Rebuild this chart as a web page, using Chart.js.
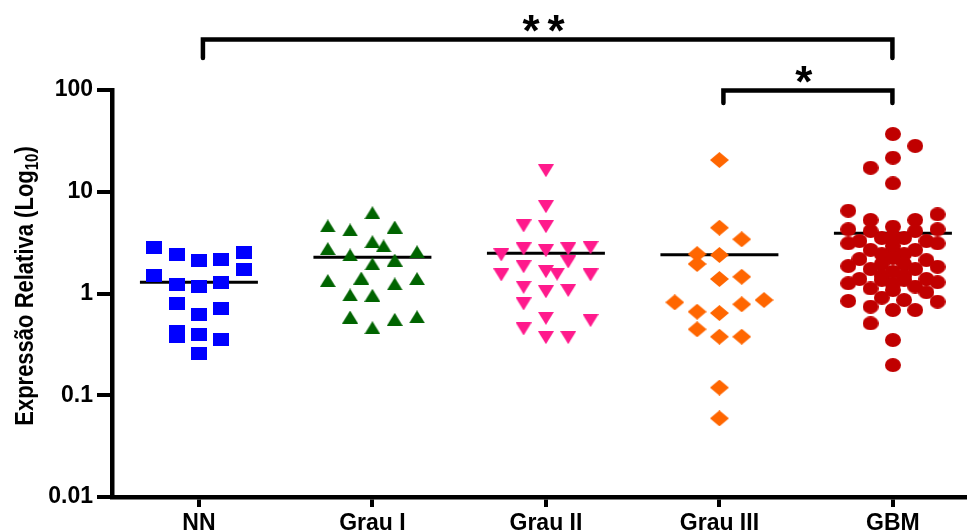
<!DOCTYPE html>
<html>
<head>
<meta charset="utf-8">
<script src="https://cdn.jsdelivr.net/npm/chart.js@4/dist/chart.umd.min.js"></script>
<style>
  html, body { margin: 0; padding: 0; background: #ffffff; }
  #chart { display: block; }
</style>
</head>
<body>
<canvas id="chart" width="967" height="532"></canvas>
<script>
// Groups along the x axis
const categories = ['NN', 'Grau I', 'Grau II', 'Grau III', 'GBM'];

// Log axis ticks
const yTickValues = [0.01, 0.1, 1, 10, 100];
const yTickLabels = ['0.01', '0.1', '1', '10', '100'];

// Axis title (main text + subscript)
const yTitleMain = 'Expressão Relativa (Log';
const yTitleSub = '10';
const yTitleEnd = ')';

// Relative expression of each sample, per group
const nnValues = [2.84, 1.49, 2.43, 1.22, 0.80, 0.42, 0.38, 2.13, 1.16, 0.615, 0.397, 0.256, 2.17, 1.27, 0.71, 0.355, 2.52, 1.73];
const grau1Values = [6.22, 4.61, 4.21, 4.50, 3.23, 2.93, 2.76, 2.39, 2.57, 1.95, 2.13, 1.42, 1.34, 1.24, 1.40, 0.967, 0.96, 0.587, 0.59, 0.557, 0.461];
const grau2Values = [16.1, 7.13, 4.61, 4.53, 2.74, 2.63, 2.74, 2.82, 2.39, 2.04, 1.83, 1.64, 1.55, 1.52, 1.52, 1.15, 1.04, 1.07, 0.789, 0.570, 0.541, 0.448, 0.368, 0.368];
const grau3Values = [20.5, 4.43, 3.41, 2.44, 2.39, 1.95, 1.39, 1.46, 0.819, 0.863, 0.783, 0.662, 0.643, 0.445, 0.376, 0.376, 0.119, 0.0593];
const gbmValues = [36.9, 28.2, 21.6, 17.2, 12.1, 6.51, 6.00, 5.28, 5.28, 4.54, 4.28, 4.28, 4.11, 4.11, 3.67, 3.51, 3.51, 3.28, 3.28, 3.11, 3.11, 2.93, 2.68, 2.68, 2.56, 2.44, 2.44, 2.23, 2.18, 2.13, 1.95, 1.95, 1.86, 1.83, 1.74, 1.74, 1.63, 1.49, 1.49, 1.39, 1.39, 1.36, 1.36, 1.26, 1.29, 1.24, 1.17, 1.12, 1.08, 1.03, 0.909, 0.863, 0.844, 0.831, 0.742, 0.688, 0.688, 0.509, 0.349, 0.198];

// Column slot of each sample inside its group's scatter (0 = centre column)
const nnSlots = [-2, -2, -1, -1, -1, -1, -1, 0, 0, 0, 0, 0, 1, 1, 1, 1, 2, 2];
const grau1Slots = [0, -2, -1, 1, 0, 0.5, -2, -1, 2, 0, 1, -0.5, -2, 1, 2, -1, 0, -1, 2, 1, 0];
const grau2Slots = [0, 0, -1, 0, -1, 0, 1, 2, -2, 1, -1, 0, 0.5, -2, 2, -1, 0, 1, -1, 0, 2, -1, 0, 1];
const grau3Slots = [0, 0, 1, -1, 0, -1, 0, 1, -2, 2, 1, -1, 0, -1, 0, 1, 0, 0];
const gbmSlots = [0, 1, 0, -1, 0, -2, 2, -1, 1, 0, -2, 2, -1, 1, 0, -0.5, 0.5, -1.5, 1.5, -2, 2, 0, -1, 1, 0, -0.5, 0.5, 0, -1.5, 1.5, -0.5, 0.5, -2, 2, -1, 1, 0, -0.5, 0.5, -1.5, 1.5, -0.5, 0.5, -2, 2, 0, 1, -1, 0, 1.5, -0.5, 0.5, -2, 2, -1, 0, 1, -1, 0, 0];

// Group means (horizontal bars)
const groupMeans = [1.29, 2.27, 2.48, 2.41, 3.91];

// Significance brackets between groups
const comparisons = [
  { from: 0, to: 4, label: '**', level: 1 },
  { from: 3, to: 4, label: '*', level: 0 }
];

// ---- drawing ----
const SLOT_STEP = 0.1286;   // horizontal spacing of scatter columns, in category units
const MEAN_HALF = 0.34;     // half length of mean bars, in category units
const FONT = '"Liberation Sans", Arial, Helvetica, sans-serif';

function makeMarker(shape, color, w, h) {
  const c = document.createElement('canvas');
  c.width = w; c.height = h;
  const g = c.getContext('2d');
  g.fillStyle = color;
  g.beginPath();
  if (shape === 'square') {
    g.rect(0, 0, w, h);
  } else if (shape === 'up') {
    g.moveTo(w / 2, 0); g.lineTo(w, h); g.lineTo(0, h); g.closePath();
  } else if (shape === 'down') {
    g.moveTo(0, 0); g.lineTo(w, 0); g.lineTo(w / 2, h); g.closePath();
  } else if (shape === 'diamond') {
    g.moveTo(w / 2, 0); g.lineTo(w, h / 2); g.lineTo(w / 2, h); g.lineTo(0, h / 2); g.closePath();
  } else {
    g.ellipse(w / 2, h / 2, w / 2, h / 2, 0, 0, Math.PI * 2);
  }
  g.fill();
  return c;
}

const groups = [
  { values: nnValues,    slots: nnSlots,    marker: makeMarker('square',  '#0000ff', 16, 13) },
  { values: grau1Values, slots: grau1Slots, marker: makeMarker('up',      '#006400', 16, 13) },
  { values: grau2Values, slots: grau2Slots, marker: makeMarker('down',    '#ff1a8c', 16, 13) },
  { values: grau3Values, slots: grau3Slots, marker: makeMarker('diamond', '#ff6600', 19, 16) },
  { values: gbmValues,   slots: gbmSlots,   marker: makeMarker('circle',  '#c00000', 16, 14) }
];

const pointSets = groups.map((grp, i) => ({
  type: 'scatter',
  label: categories[i],
  data: grp.values.map((v, k) => ({ x: i + grp.slots[k] * SLOT_STEP, y: v })),
  pointStyle: grp.marker,
  pointRadius: 1,
  pointHoverRadius: 1,
  pointBorderWidth: 0,
  order: 1
}));

const meanSets = groupMeans.map((m, i) => ({
  type: 'line',
  label: categories[i] + ' mean',
  data: [{ x: i - MEAN_HALF, y: m }, { x: i + MEAN_HALF, y: m }],
  borderColor: '#000000',
  borderWidth: 3,
  borderCapStyle: 'butt',
  pointRadius: 0,
  fill: false,
  order: 2
}));

const annotations = {
  id: 'annotations',
  afterDraw(chart) {
    const { ctx, chartArea: area } = chart;
    const xs = chart.scales.x;
    ctx.save();

    // significance brackets
    ctx.strokeStyle = '#000000';
    ctx.fillStyle = '#000000';
    ctx.lineWidth = 4.5;
    ctx.lineJoin = 'miter';
    ctx.lineCap = 'round';
    comparisons.forEach(cmp => {
      const y = area.top + 0.5 - cmp.level * 51;
      const leg = 12.5 + cmp.level * 6;
      const x1 = xs.getPixelForValue(cmp.from) + 4;
      const x2 = xs.getPixelForValue(cmp.to) - 0.5;
      ctx.beginPath();
      ctx.moveTo(x1, y + leg);
      ctx.lineTo(x1, y);
      ctx.lineTo(x2, y);
      ctx.lineTo(x2, y + leg);
      ctx.stroke();

      // stars, centred above the bracket
      ctx.font = 'bold 44px ' + FONT;
      ctx.textAlign = 'center';
      ctx.textBaseline = 'alphabetic';
      const m = ctx.measureText('*');
      const cy = y - 16.5;
      const base = cy + (m.actualBoundingBoxAscent - m.actualBoundingBoxDescent) / 2;
      const n = cmp.label.length;
      const cx = (x1 + x2) / 2 - 4;
      for (let k = 0; k < n; k++) {
        ctx.fillText('*', cx + (k - (n - 1) / 2) * 25, base);
      }
    });

    // y axis title with subscript
    ctx.translate(33, 286);
    ctx.rotate(-Math.PI / 2);
    ctx.scale(1, 1.2);
    ctx.textAlign = 'left';
    ctx.textBaseline = 'alphabetic';
    const mainFont = 'bold 22px ' + FONT;
    const subFont = 'bold 15px ' + FONT;
    ctx.font = mainFont;
    const w1 = ctx.measureText(yTitleMain).width;
    const w3 = ctx.measureText(yTitleEnd).width;
    ctx.font = subFont;
    const w2 = ctx.measureText(yTitleSub).width;
    let x = -(w1 + w2 + w3) / 2;
    ctx.font = mainFont;
    ctx.fillText(yTitleMain, x, 0);
    x += w1;
    ctx.font = subFont;
    ctx.fillText(yTitleSub, x, 4);
    x += w2;
    ctx.font = mainFont;
    ctx.fillText(yTitleEnd, x, 0);

    ctx.restore();
  }
};

new Chart(document.getElementById('chart').getContext('2d'), {
  type: 'scatter',
  data: { datasets: [...pointSets, ...meanSets] },
  options: {
    responsive: false,
    animation: false,
    devicePixelRatio: 1,
    layout: { autoPadding: false, padding: { top: 90, right: 0, bottom: 0, left: 0 } },
    plugins: {
      legend: { display: false },
      tooltip: { enabled: false }
    },
    scales: {
      x: {
        type: 'linear',
        min: -0.501,
        max: 4.427,
        afterBuildTicks: s => { s.ticks = categories.map((c, i) => ({ value: i })); },
        afterFit: s => { s.height = 35; },
        ticks: {
          callback: (v, i) => categories[i],
          color: '#000000',
          font: { family: FONT, size: 23, weight: 'bold' },
          padding: 3,
          maxRotation: 0,
          autoSkip: false
        },
        grid: { drawOnChartArea: false, drawTicks: true, tickLength: 10, lineWidth: 4, color: '#000000' },
        border: { display: true, width: 4.5, color: '#000000' }
      },
      y: {
        type: 'logarithmic',
        min: 0.01,
        max: 100,
        afterBuildTicks: s => { s.ticks = yTickValues.map(v => ({ value: v })); },
        afterFit: s => { s.width = 112; },
        ticks: {
          callback: (v, i) => yTickLabels[i],
          color: '#000000',
          font: { family: FONT, size: 23, weight: 'bold' },
          padding: 4,
          autoSkip: false
        },
        grid: { drawOnChartArea: false, drawTicks: true, tickLength: 15, lineWidth: 4, color: '#000000' },
        border: { display: true, width: 4.5, color: '#000000' }
      }
    }
  },
  plugins: [annotations]
});
</script>
</body>
</html>
